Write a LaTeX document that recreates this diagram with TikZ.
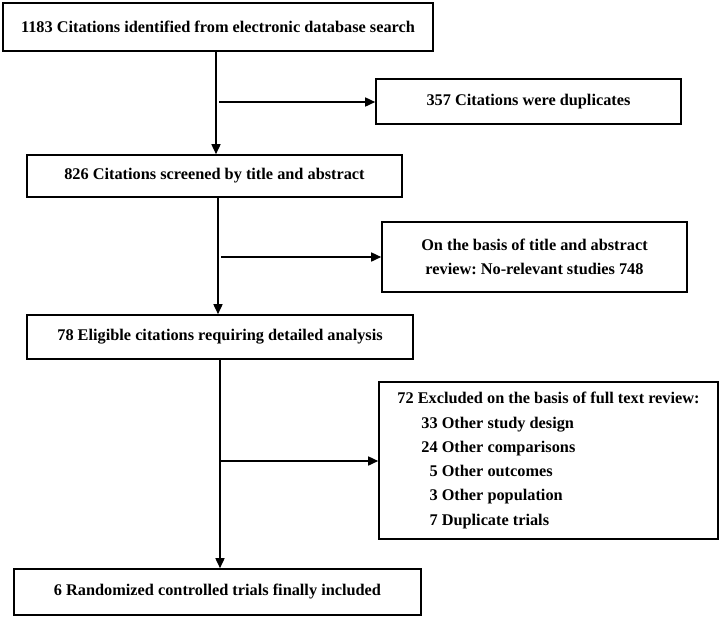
\documentclass[tikz,border=0pt]{standalone}
\usepackage{fontspec}
\setmainfont{Liberation Serif}
\usetikzlibrary{arrows.meta}
\frenchspacing
\begin{document}
\begin{tikzpicture}[x=1pt,y=-1pt,
  box/.style={draw, line width=1.6pt, inner sep=0pt, font=\fontsize{16.3}{24.3}\selectfont\bfseries, align=center},
  arr/.style={line width=1.6pt, -{Triangle[length=10pt,width=9pt]}}]
\useasboundingbox[fill=white] (0,0) rectangle (719,619);
\node[box, minimum width=430, minimum height=48] (b1) at (218,27) {1183 Citations identified from electronic database search};
\node[box, minimum width=305, minimum height=45] (b2) at (528.5,101.5) {357 Citations were duplicates};
\node[box, minimum width=375, minimum height=42] (b3) at (214.5,176) {826 Citations screened by title and abstract};
\node[box, minimum width=305, minimum height=70] (b4) at (534.5,257) {On the basis of title and abstract\\review: No-relevant studies 748};
\node[box, minimum width=386, minimum height=44] (b5) at (220,337) {78 Eligible citations requiring detailed analysis};
\node[box, minimum width=339, minimum height=157, align=left] (b6) at (548.5,460.5) {72 Excluded on the basis of full text review:\\
\hspace*{24pt}33 Other study design\\
\hspace*{24pt}24 Other comparisons\\
\hspace*{24pt}\phantom{3}5 Other outcomes\\
\hspace*{24pt}\phantom{3}3 Other population\\
\hspace*{24pt}\phantom{3}7 Duplicate trials};
\node[box, minimum width=407, minimum height=46] (b7) at (217.5,592) {6 Randomized controlled trials finally included};
\coordinate (c1) at (216,102);
\coordinate (c2) at (218,257);
\coordinate (c3) at (220,461);
\draw[arr] (b1.south -| c1) -- (b3.north -| c1);
\draw[arr] ([xshift=3pt]c1) -- (b2.west |- c1);
\draw[arr] (b3.south -| c2) -- (b5.north -| c2);
\draw[arr] ([xshift=3pt]c2) -- (b4.west |- c2);
\draw[arr] (b5.south -| c3) -- (b7.north -| c3);
\draw[arr] (c3) -- (b6.west |- c3);
\end{tikzpicture}
\end{document}
